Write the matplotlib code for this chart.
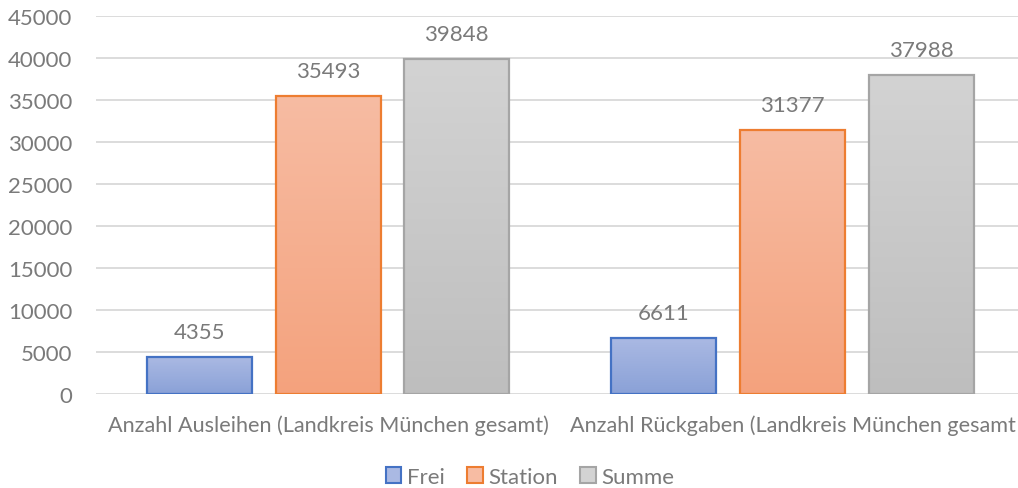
import matplotlib
matplotlib.use("Agg")
import matplotlib.pyplot as plt
import numpy as np
from matplotlib.colors import LinearSegmentedColormap
from matplotlib.patches import Patch

categories = ["Anzahl Ausleihen (Landkreis München gesamt)",
              "Anzahl Rückgaben (Landkreis München gesamt"]
series_names = ["Frei", "Station", "Summe"]
frei = [4355, 6611]
station = [35493, 31377]
summe = [39848, 37988]
values = [frei, station, summe]

top_colors = ["#aab9e3", "#f7bca3", "#d3d3d3"]
bottom_colors = ["#8aa1d7", "#f4a27d", "#bebebe"]
edge_colors = ["#4472c4", "#ed7d31", "#a5a5a5"]
text_color = "#7a7a7a"
grid_color = "#d9d9d9"

plt.rcParams['font.family'] = ['Lato', 'DejaVu Sans']

W, H = 1018, 489
fig = plt.figure(figsize=(W/100, H/100), dpi=100)
ax = fig.add_axes([96/W, 1-395/H, (W-96)/W, (395-17)/H])

x = np.arange(len(categories))
bw = 0.226
step = 0.277

grad = np.linspace(0, 1, 256).reshape(-1, 1)
for i, vals in enumerate(values):
    cmap = LinearSegmentedColormap.from_list(f"g{i}", [bottom_colors[i], top_colors[i]])
    bars = ax.bar(x + (i-1)*step, vals, width=bw, facecolor="none",
                  edgecolor=edge_colors[i], linewidth=1.6, zorder=3)
    for b, v in zip(bars, vals):
        x0, y0 = b.get_x(), b.get_y()
        im = ax.imshow(grad, cmap=cmap, aspect="auto", origin="lower",
                       extent=[x0, x0 + b.get_width(), y0, y0 + b.get_height()],
                       zorder=2)
        im.set_clip_path(b)
        ax.text(x0 + b.get_width()/2, v + 3000, f"{v}", ha="center", va="center",
                fontsize=16, color=text_color)

ax.set_xlim(-0.5, 1.4855)
ax.set_ylim(0, 45000)
ax.set_yticks(np.arange(0, 45001, 5000))
ax.set_yticklabels([str(v) for v in range(0, 45001, 5000)])
ax.set_xticks(x)
ax.set_xticklabels(categories)
ax.tick_params(axis="y", length=0, pad=17, labelsize=16, labelcolor=text_color)
ax.tick_params(axis="x", length=0, pad=15, labelsize=15.6, labelcolor=text_color)
ax.grid(axis="y", color=grid_color, linewidth=1.3, zorder=0)
ax.set_axisbelow(True)
for s in ax.spines.values():
    s.set_visible(False)

handles = [Patch(facecolor=(top_colors[i]), edgecolor=edge_colors[i], linewidth=1.5)
           for i in range(3)]
fig.legend(handles, series_names, loc="center", bbox_to_anchor=(530/W, 1-478/H),
           ncol=3, frameon=False, fontsize=16, labelcolor=text_color,
           handlelength=0.7, handleheight=0.7, handletextpad=0.25, columnspacing=1.0)

fig.savefig("out.png", dpi=100)
